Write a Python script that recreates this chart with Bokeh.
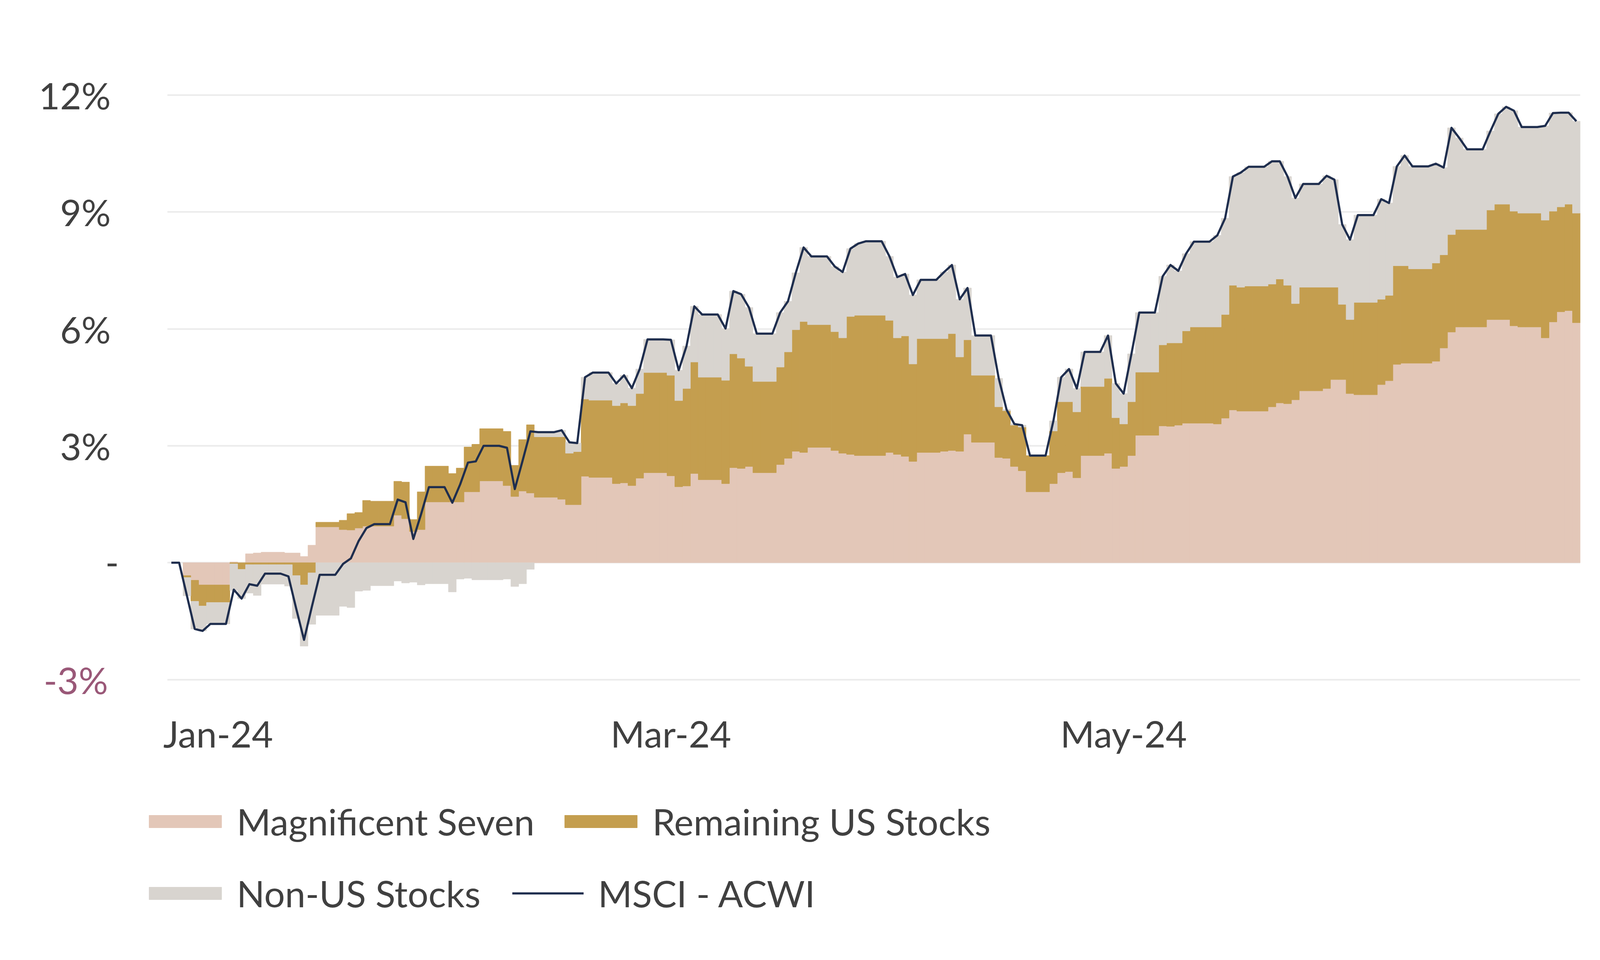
import numpy as np
import pandas as pd
from bokeh.plotting import figure
from bokeh.models import (Range1d, FixedTicker, Legend, LegendItem, LinearAxis,
                          ColumnDataSource, BoxAnnotation)
from bokeh.embed import file_html
from bokeh.resources import INLINE

# ---------------- data (cumulative contribution to MSCI ACWI return, %) ----------------
trading_days = pd.bdate_range("2024-01-02", "2024-06-28")   # weekdays, 129 values each

mag7 = [
    # Jan
    -0.33, -0.45, -0.57, -0.57, 0.02, 0.00, 0.23, 0.25, 0.27, 0.25, 0.25, 0.16, 0.45, 0.92,
    0.85, 0.84, 0.89, 0.94, 0.94, 1.22, 1.13, 0.80,
    # Feb
    0.85, 1.56, 1.56, 1.56, 1.82, 1.82, 2.10, 1.98, 1.70, 1.84, 1.79, 1.68, 1.63, 1.49,
    1.49, 2.22, 2.19, 2.03, 2.05, 1.98, 2.17,
    # Mar
    2.31, 2.23, 1.95, 1.97, 2.29, 2.13, 2.03, 2.44, 2.42, 2.47, 2.31, 2.52, 2.68, 2.86,
    2.83, 2.96, 2.88, 2.81, 2.78, 2.75, 2.75,
    # Apr
    2.83, 2.78, 2.73, 2.60, 2.83, 2.86, 2.88, 2.86, 3.30, 3.09, 2.70, 2.68, 2.47, 2.36,
    1.82, 2.03, 2.31, 2.34, 2.18, 2.75, 2.81, 2.42,
    # May
    2.47, 2.75, 3.27, 3.51, 3.50, 3.53, 3.58, 3.58, 3.56, 3.71, 3.92, 3.89, 3.89, 4.00,
    4.10, 4.08, 4.18, 4.41, 4.47, 4.70, 4.70, 4.34, 4.31,
    # Jun
    4.57, 4.67, 5.09, 5.12, 5.12, 5.17, 5.51, 5.92, 6.05, 6.05, 6.24, 6.24, 6.24, 6.08,
    6.05, 5.77, 6.18, 6.44, 6.47, 6.16,
]

remaining_us = [
    # Jan
    -0.05, -0.54, -0.54, -0.45, -0.03, -0.17, -0.05, -0.05, -0.05, -0.05, -0.33, -0.57, -0.26, 0.12,
    0.24, 0.42, 0.40, 0.66, 0.64, 0.87, 0.94, 0.31,
    # Feb
    0.97, 0.92, 0.73, 0.87, 1.15, 1.22, 1.34, 1.39, 0.80, 1.32, 1.75, 1.55, 1.60, 1.32,
    1.36, 1.98, 1.98, 2.00, 2.05, 2.05, 2.17,
    # Mar
    2.57, 2.58, 2.21, 2.50, 2.86, 2.63, 2.65, 2.92, 2.83, 2.57, 2.34, 2.50, 2.73, 3.12,
    3.36, 3.15, 3.05, 2.96, 3.54, 3.60, 3.60,
    # Apr
    3.39, 2.99, 3.09, 2.50, 2.92, 2.89, 3.00, 2.42, 2.42, 1.72, 1.30, 1.22, 1.06, 1.12,
    0.93, 1.35, 1.82, 1.79, 1.69, 1.77, 1.92, 1.30,
    # May
    1.09, 1.38, 1.62, 2.08, 2.14, 2.11, 2.37, 2.47, 2.49, 2.66, 3.20, 3.18, 3.21, 3.15,
    3.18, 3.04, 2.47, 2.66, 2.60, 2.37, 1.93, 1.90, 2.37,
    # Jun
    2.19, 2.19, 2.53, 2.50, 2.42, 2.52, 2.39, 2.50, 2.50, 2.50, 2.81, 2.96, 2.96, 2.94,
    2.92, 3.02, 2.84, 2.69, 2.73, 2.81,
]

non_us = [
    # Jan
    -0.47, -0.71, -0.64, -0.55, -0.68, -0.75, -0.73, -0.79, -0.50, -0.55, -1.10, -1.57, -1.32, -1.35,
    -1.12, -1.15, -0.73, -0.71, -0.59, -0.47, -0.52, -0.50,
    # Feb
    -0.57, -0.54, -0.75, -0.42, -0.40, -0.44, -0.44, -0.42, -0.61, -0.54, -0.17, 0.12, 0.17, 0.28,
    0.22, 0.56, 0.71, 0.57, 0.71, 0.45, 0.63,
    # Mar
    0.85, 0.91, 0.78, 1.09, 1.43, 1.61, 1.33, 1.61, 1.64, 1.51, 1.23, 1.40, 1.30, 1.46,
    1.90, 1.75, 1.67, 1.69, 1.74, 1.84, 1.90,
    # Apr
    1.64, 1.56, 1.59, 1.77, 1.51, 1.71, 1.76, 1.48, 1.33, 1.02, 0.73, 0.03, 0.03, 0.05,
    0.00, 0.26, 0.63, 0.84, 0.60, 0.89, 1.10, 0.88,
    # May
    0.78, 1.23, 1.53, 1.76, 2.00, 1.85, 1.98, 2.19, 2.35, 2.47, 2.79, 2.94, 3.06, 3.15,
    3.02, 2.79, 2.71, 2.65, 2.86, 2.76, 2.05, 2.05, 2.24,
    # Jun
    2.57, 2.37, 2.55, 2.83, 2.63, 2.55, 2.24, 2.74, 2.35, 2.06, 2.03, 2.32, 2.50, 2.58,
    2.21, 2.42, 2.52, 2.42, 2.35, 2.36,
]

series_names = ["Magnificent Seven", "Remaining US Stocks", "Non-US Stocks"]
line_name = "MSCI - ACWI"
x_tick_labels = ["Jan-24", "Mar-24", "May-24"]
y_tick_values = [-3, 0, 3, 6, 9, 12]
y_tick_labels = ["-3%", "-", "3%", "6%", "9%", "12%"]

# ---------------- preparation ----------------
calendar = pd.date_range("2023-12-31", "2024-06-28", freq="D")
df = pd.DataFrame({"a": mag7, "b": remaining_us, "c": non_us}, index=trading_days)
df = df.reindex(calendar).ffill().fillna(0.0)      # weekends / holidays carry the last value
acwi = df.sum(axis=1).values
day = (calendar - calendar[0]).days.values.astype(float)

colors = ["#E3C7B8", "#C49E4F", "#D8D4CF"]
line_color = "#1F2E4E"
FONT = "Lato"
FSIZE = "94px"
TXT = "#404040"

X0, X1 = -0.5, len(day) - 0.5
p = figure(frame_width=3688, frame_height=2112, output_backend="svg", toolbar_location=None,
           x_range=Range1d(-4.06, X1), y_range=Range1d(-9.117, 12.05),
           min_border_left=357, min_border_right=30, min_border_top=238, min_border_bottom=5)
p.outline_line_color = None
p.background_fill_color = "white"
p.border_fill_color = "white"

# stacked daily columns (positive and negative parts stacked separately)
pos = np.zeros(len(day))
neg = np.zeros(len(day))
bar_renderers = []
for key, col in zip(["a", "b", "c"], colors):
    v = df[key].values
    bottom = np.where(v >= 0, pos, neg + v)
    top = np.where(v >= 0, pos + v, neg)
    pos = pos + np.clip(v, 0, None)
    neg = neg + np.clip(v, None, 0)
    keep = v != 0
    src = ColumnDataSource(dict(x=day[keep], top=top[keep], bottom=bottom[keep]))
    r = p.vbar(x="x", top="top", bottom="bottom", width=1.0, source=src,
               fill_color=col, line_color=col, line_width=1)
    bar_renderers.append(r)

line_r = p.line(day, acwi, line_color=line_color, line_width=5.5, line_join="round")

# grid lines only across the data span
p.xgrid.visible = False
grid = p.ygrid[0]
grid.grid_line_color = "#EBEBEB"
grid.grid_line_width = 4
grid.ticker = FixedTicker(ticks=y_tick_values)
if "cross_bounds" in grid.properties():
    grid.cross_bounds = (X0, X1)
else:
    p.add_layout(BoxAnnotation(right=X0, fill_color="white", fill_alpha=1.0,
                               line_color=None, level="underlay"))

# y axis (percent labels)
p.yaxis.ticker = FixedTicker(ticks=y_tick_values)
ov = {t: l for t, l in zip(y_tick_values, y_tick_labels)}
ov[-3] = " "
ov[0] = " "
p.yaxis.major_label_overrides = ov
p.yaxis.major_label_standoff = 74

# outer left axis carrying only the coloured -3% label, pulled back next to the others
neg_axis = LinearAxis(ticker=FixedTicker(ticks=[-3]),
                      major_label_overrides={-3: y_tick_labels[0]},
                      major_label_standoff=-180)
p.add_layout(neg_axis, "left")

# zero label "-" sits a little further right than the others
zero_axis = LinearAxis(ticker=FixedTicker(ticks=[0]),
                       major_label_overrides={0: y_tick_labels[1]},
                       major_label_standoff=-208)
p.add_layout(zero_axis, "left")

# x axis (sits at the bottom of the frame, labels pulled up under the -3% line)
x_tick_pos = [6, 64, 122]
p.xaxis.ticker = FixedTicker(ticks=x_tick_pos)
p.xaxis.major_label_overrides = {t: l for t, l in zip(x_tick_pos, x_tick_labels)}
p.xaxis.major_label_standoff = -530

for ax in (p.xaxis[0], p.yaxis[0], neg_axis, zero_axis):
    ax.axis_line_color = None
    ax.major_tick_line_color = None
    ax.minor_tick_line_color = None
    ax.major_tick_out = 0
    ax.major_tick_in = 0
    ax.major_label_text_font = FONT
    ax.major_label_text_font_size = FSIZE
    ax.major_label_text_color = TXT
neg_axis.major_label_text_color = "#9A5878"

def add_legend(label, renderer, loc, gw, standoff):
    lg = Legend(items=[LegendItem(label=label, renderers=[renderer])], location=loc,
                orientation="horizontal", glyph_width=gw, glyph_height=40,
                label_standoff=standoff, padding=0, margin=0, spacing=0,
                border_line_color=None, background_fill_alpha=0,
                label_text_font=FONT, label_text_font_size=FSIZE, label_text_color=TXT)
    p.add_layout(lg)

add_legend(series_names[0], bar_renderers[0], (1, 191), 232, 16)
add_legend(series_names[1], bar_renderers[1], (1065, 191), 232, 16)
add_legend(series_names[2], bar_renderers[2], (1, 7), 232, 16)
add_legend(line_name, line_r, (954, 7), 183, 37)

open("out.html", "w").write(file_html(p, INLINE))
